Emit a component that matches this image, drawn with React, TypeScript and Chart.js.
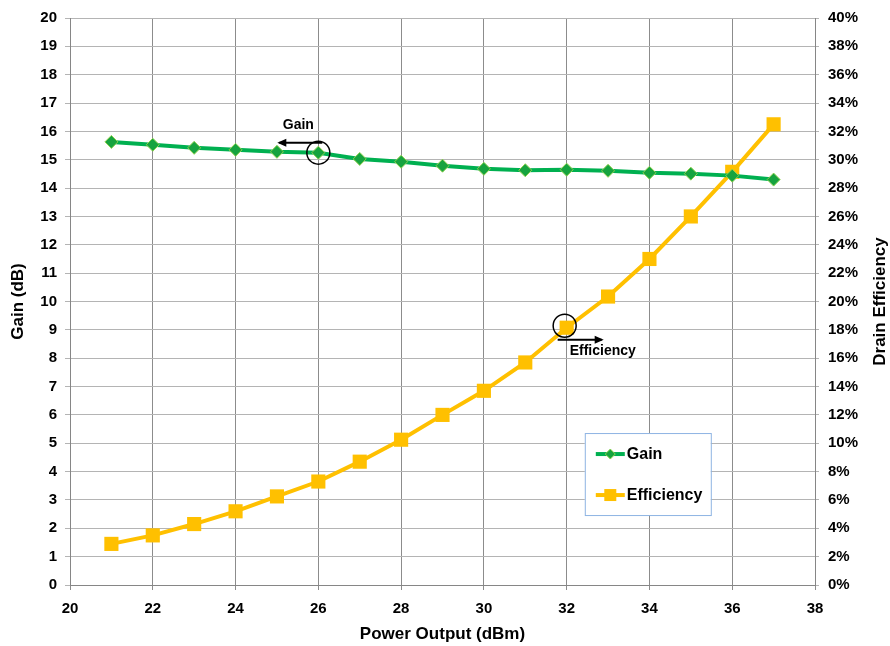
import React, { useEffect, useRef } from "react";
import { Chart, registerables } from "chart.js";

Chart.register(...registerables);

const powerOutput = [21, 22, 23, 24, 25, 26, 27, 28, 29, 30, 31, 32, 33, 34, 35, 36, 37];
const gainDb = [15.63, 15.53, 15.42, 15.35, 15.28, 15.25, 15.03, 14.93, 14.79, 14.68, 14.63, 14.65, 14.61, 14.54, 14.51, 14.44, 14.3];
const efficiencyPct = [2.9, 3.5, 4.3, 5.2, 6.25, 7.3, 8.7, 10.25, 12.0, 13.7, 15.7, 18.15, 20.35, 23.0, 26.0, 29.15, 32.5];

const xTitle = "Power Output (dBm)";
const yTitle = "Gain (dB)";
const y1Title = "Drain Efficiency";
const gainLabel = "Gain";
const effLabel = "Efficiency";
const gainNoteIndex = 5;
const effNoteIndex = 11;

const FONT = "'Liberation Sans', Arial, sans-serif";
const GREEN = "#00B050";
const GREEN_MARK = "#16a33f";
const GREEN_EDGE = "#8fd14f";
const GOLD = "#FFC000";

function drawArrow(ctx: CanvasRenderingContext2D, x1: number, y1: number, x2: number, y2: number) {
  ctx.save();
  ctx.strokeStyle = "#000";
  ctx.fillStyle = "#000";
  ctx.lineWidth = 2;
  ctx.beginPath();
  ctx.moveTo(x1, y1);
  ctx.lineTo(x2, y2);
  ctx.stroke();
  const dir = Math.sign(x2 - x1);
  ctx.beginPath();
  ctx.moveTo(x2 + dir * 2, y2);
  ctx.lineTo(x2 - dir * 7, y2 - 4);
  ctx.lineTo(x2 - dir * 7, y2 + 4);
  ctx.closePath();
  ctx.fill();
  ctx.restore();
}

const overlayPlugin = {
  id: "overlay",
  afterDatasetsDraw(chart: any) {
    const ctx: CanvasRenderingContext2D = chart.ctx;
    const xs = chart.scales.x;
    const ys = chart.scales.y;
    const y1s = chart.scales.y1;
    const area = chart.chartArea;

    // Gain annotation
    const gx = xs.getPixelForValue(powerOutput[gainNoteIndex]);
    const gy = ys.getPixelForValue(gainDb[gainNoteIndex]);
    ctx.save();
    ctx.strokeStyle = "#000";
    ctx.lineWidth = 1.5;
    ctx.beginPath();
    ctx.arc(gx, gy, 11.5, 0, Math.PI * 2);
    ctx.stroke();
    ctx.restore();
    drawArrow(ctx, gx + 4, gy - 10, gx - 39, gy - 10);
    ctx.save();
    ctx.font = `bold 14px ${FONT}`;
    ctx.fillStyle = "#000";
    ctx.textAlign = "center";
    ctx.textBaseline = "middle";
    ctx.fillText(gainLabel, gx - 20, gy - 28);
    ctx.restore();

    // Efficiency annotation
    const ex = xs.getPixelForValue(powerOutput[effNoteIndex]);
    const ey = y1s.getPixelForValue(efficiencyPct[effNoteIndex]);
    ctx.save();
    ctx.strokeStyle = "#000";
    ctx.lineWidth = 1.5;
    ctx.beginPath();
    ctx.arc(ex - 2, ey - 2, 11.5, 0, Math.PI * 2);
    ctx.stroke();
    ctx.restore();
    drawArrow(ctx, ex - 9, ey + 12, ex + 35, ey + 12);
    ctx.save();
    ctx.font = `bold 14px ${FONT}`;
    ctx.fillStyle = "#000";
    ctx.textAlign = "left";
    ctx.textBaseline = "middle";
    ctx.fillText(effLabel, ex + 3, ey + 23);
    ctx.restore();

    // Legend box
    const bx = area.left + (area.right - area.left) * 0.691;
    const by = area.top + (area.bottom - area.top) * 0.732;
    const bw = 126;
    const bh = 82;
    ctx.save();
    ctx.fillStyle = "#fff";
    ctx.fillRect(bx, by, bw, bh);
    ctx.strokeStyle = "#8eb4e3";
    ctx.lineWidth = 1;
    ctx.strokeRect(bx + 0.5, by + 0.5, bw, bh);
    const items = [
      { label: gainLabel, color: GREEN, y: by + 21, kind: "diamond" },
      { label: effLabel, color: GOLD, y: by + 62, kind: "square" },
    ];
    for (const it of items) {
      ctx.strokeStyle = it.color;
      ctx.lineWidth = 4;
      ctx.beginPath();
      ctx.moveTo(bx + 11, it.y);
      ctx.lineTo(bx + 40, it.y);
      ctx.stroke();
      const mx = bx + 25.5;
      if (it.kind === "diamond") {
        ctx.fillStyle = GREEN_MARK;
        ctx.strokeStyle = GREEN_EDGE;
        ctx.lineWidth = 1;
        ctx.beginPath();
        ctx.moveTo(mx, it.y - 5);
        ctx.lineTo(mx + 5, it.y);
        ctx.lineTo(mx, it.y + 5);
        ctx.lineTo(mx - 5, it.y);
        ctx.closePath();
        ctx.fill();
        ctx.stroke();
      } else {
        ctx.fillStyle = GOLD;
        ctx.fillRect(mx - 6, it.y - 6, 12, 12);
      }
      ctx.fillStyle = "#000";
      ctx.font = `bold 16px ${FONT}`;
      ctx.textAlign = "left";
      ctx.textBaseline = "middle";
      ctx.fillText(it.label, bx + 42, it.y + 1);
    }
    ctx.restore();

    // Right axis title (reads bottom to top)
    ctx.save();
    ctx.translate(chart.width - 10, (area.top + area.bottom) / 2);
    ctx.rotate(-Math.PI / 2);
    ctx.font = `bold 17px ${FONT}`;
    ctx.fillStyle = "#000";
    ctx.textAlign = "center";
    ctx.textBaseline = "middle";
    ctx.fillText(y1Title, 0, 0);
    ctx.restore();
  },
};

export default function App() {
  const canvasRef = useRef<HTMLCanvasElement | null>(null);

  useEffect(() => {
    document.body.style.margin = "0";
    const canvas = canvasRef.current;
    if (!canvas) return;
    const tickFont = { family: FONT, size: 15, weight: "bold" as const };
    const titleFont = { family: FONT, size: 17, weight: "bold" as const };
    const chart = new Chart(canvas, {
      type: "line",
      data: {
        datasets: [
          {
            label: gainLabel,
            data: powerOutput.map((x, i) => ({ x, y: gainDb[i] })),
            yAxisID: "y",
            borderColor: GREEN,
            borderWidth: 4,
            pointStyle: "rectRot",
            pointRadius: 6.5,
            pointBackgroundColor: GREEN_MARK,
            pointBorderColor: GREEN_EDGE,
            pointBorderWidth: 1,
            tension: 0,
          },
          {
            label: effLabel,
            data: powerOutput.map((x, i) => ({ x, y: efficiencyPct[i] })),
            yAxisID: "y1",
            borderColor: GOLD,
            borderWidth: 4,
            pointStyle: "rect",
            pointRadius: 10,
            pointBackgroundColor: GOLD,
            pointBorderColor: GOLD,
            pointBorderWidth: 0,
            tension: 0,
          },
        ],
      },
      options: {
        animation: false,
        responsive: true,
        maintainAspectRatio: false,
        layout: { padding: { top: 17, left: 0, right: 0, bottom: 0 } },
        plugins: {
          legend: { display: false },
          tooltip: { enabled: false },
        },
        scales: {
          x: {
            type: "linear",
            position: "bottom",
            min: 20,
            max: 38,
            ticks: { stepSize: 2, font: tickFont, color: "#000", padding: 10 },
            grid: { color: "#8c8c8c", lineWidth: 1, tickLength: 5 },
            border: { color: "#868686", width: 1 },
            title: { display: true, text: xTitle, font: titleFont, color: "#000", padding: { top: 0, bottom: 1 } },
            afterFit: (s: any) => { s.height = 61; },
          },
          y: {
            type: "linear",
            position: "left",
            min: 0,
            max: 20,
            ticks: { stepSize: 1, font: tickFont, color: "#000", padding: 8 },
            grid: { color: "#b4b4b4", lineWidth: 1, tickLength: 5 },
            border: { color: "#868686", width: 1 },
            title: { display: true, text: yTitle, font: titleFont, color: "#000", padding: { top: 8, bottom: 0 } },
            afterFit: (s: any) => { s.width = 70; },
          },
          y1: {
            type: "linear",
            position: "right",
            min: 0,
            max: 40,
            ticks: {
              stepSize: 2,
              font: tickFont,
              color: "#000",
              padding: 9,
              callback: (v: any) => `${v}%`,
            },
            grid: { drawOnChartArea: false, color: "#b4b4b4", tickLength: 4 },
            border: { color: "#868686", width: 1 },
            afterFit: (s: any) => { s.width = 75; },
          },
        },
      },
      plugins: [overlayPlugin],
    });
    return () => chart.destroy();
  }, []);

  return (
    <div style={{ position: "relative", width: 890, height: 646 }}>
      <canvas ref={canvasRef} />
    </div>
  );
}
